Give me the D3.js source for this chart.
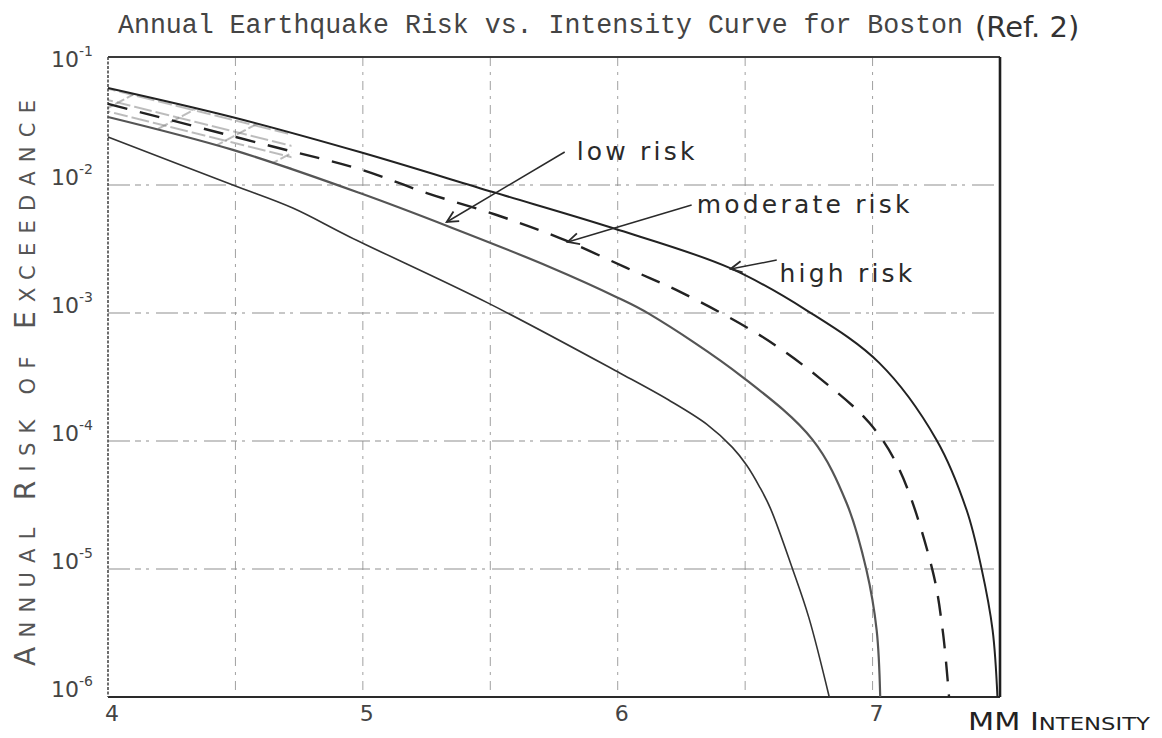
<!DOCTYPE html>
<html>
<head>
<meta charset="utf-8">
<script src="https://cdn.jsdelivr.net/npm/d3@7"></script>
<style>
	body { margin: 0; background: #fff; }
	svg { display: block; }
</style>
</head>
<body>
<div id="risk-chart"></div>
<script>
/**
 * Annual earthquake risk vs. intensity (Boston)
 */

// x axis : MM intensity
const intensityLabels = [4, 5, 6, 7];
const intensityGrid = [4.5, 5, 5.5, 6, 6.5, 7];
// y axis : annual risk of exceedance (log)
const riskTicks = [1e-1, 1e-2, 1e-3, 1e-4, 1e-5, 1e-6];
const riskTickExponents = ["-1", "-2", "-3", "-4", "-5", "-6"];

const highRisk = [
	[4.0, 0.0573], [4.486, 0.0340], [4.988, 0.0181], [5.51, 0.00881],
	[5.98, 0.00461], [6.439, 0.00225], [6.741, 0.00105], [7.027, 0.000406],
	[7.251, 1.02e-4], [7.369, 2.89e-5], [7.427, 1.02e-5], [7.471, 3.33e-6],
	[7.49, 1e-6]
];
const moderateRisk = [
	[4.0, 0.0430], [4.624, 0.0205], [4.988, 0.0133], [5.251, 0.00865],
	[5.525, 0.00583], [5.773, 0.00385], [6.035, 0.00225], [6.255, 0.00143],
	[6.569, 6.49e-4], [6.792, 3.10e-4], [6.988, 1.38e-4], [7.106, 5.93e-5],
	[7.235, 9.8e-6], [7.275, 3.33e-6], [7.30, 1e-6]
];
const lowRisk = [
	[4.0, 0.0340], [4.49, 0.0188], [4.988, 0.00865], [5.341, 0.00470],
	[5.733, 0.00229], [5.996, 0.00133], [6.125, 0.00098], [6.49, 3.16e-4],
	[6.765, 1.02e-4], [6.898, 3.28e-5], [6.976, 9.8e-6], [7.016, 3.33e-6],
	[7.03, 1e-6]
];
const lowestCurve = [
	[4.0, 0.0237], [4.49, 0.0100], [4.725, 0.00661], [4.949, 0.00393],
	[5.49, 0.00120], [6.008, 3.40e-4], [6.2, 2.09e-4], [6.35, 1.35e-4],
	[6.45, 8.91e-5], [6.506, 6.46e-5], [6.557, 4.37e-5], [6.6, 2.95e-5],
	[6.686, 1.0e-5], [6.75, 4.17e-6], [6.83, 1e-6]
];
// hatched band on the left (between high and low risk)
const bandIntensity = [4.0, 4.72];

// labels with arrows : text, label anchor, arrow tail, arrow tip
const annotations = [
	{ text: "low risk", label: [5.839, 0.0157], tail: [5.792, 0.0181], tip: [5.329, 0.00514] },
	{ text: "moderate risk", label: [6.31, 0.00604], tail: [6.29, 0.00698], tip: [5.804, 0.00359] },
	{ text: "high risk", label: [6.635, 0.00175], tail: [6.624, 0.00259], tip: [6.443, 0.00221] }
];

/**
 * Adds a small caps label (capitalised words get a bigger first letter)
 */
function addSmallCaps(textSel, words, bigSize, smallSize) {
	words.forEach((w, i) => {
		const isCap = w[0] === w[0].toUpperCase();
		textSel.append("tspan")
			.attr("font-size", isCap ? bigSize : smallSize)
			.text((i > 0 ? " " : "") + w[0].toUpperCase());
		textSel.append("tspan")
			.attr("font-size", smallSize)
			.text(w.slice(1).toUpperCase());
	});
}

(function (d3) {
	"use strict";

	const width = 1162, height = 738;
	const margin = { top: 57, right: 162, bottom: 41, left: 108 };

	const svg = d3.select("#risk-chart")
		.append("svg")
		.attr("width", width)
		.attr("height", height);

	const x = d3.scaleLinear()
		.domain([4, 7.5])
		.range([margin.left, width - margin.right]);
	const y = d3.scaleLog()
		.domain([1e-6, 1e-1])
		.range([height - margin.bottom, margin.top]);

	const ink = "#2a2a2a";
	const handFont = "'DejaVu Sans', sans-serif";

	/*** hatch patterns ***/
	const defs = svg.append("defs");
	defs.append("pattern")
		.attr("id", "hatch-a")
		.attr("patternUnits", "userSpaceOnUse")
		.attr("width", 40).attr("height", 11)
		.attr("patternTransform", "rotate(14)")
		.append("line")
		.attr("x1", 0).attr("y1", 5).attr("x2", 40).attr("y2", 5)
		.attr("stroke", "#7a7a7a").attr("stroke-width", 1.1)
		.attr("stroke-dasharray", "14 4");
	defs.append("pattern")
		.attr("id", "hatch-b")
		.attr("patternUnits", "userSpaceOnUse")
		.attr("width", 40).attr("height", 42)
		.attr("patternTransform", "rotate(-28)")
		.append("line")
		.attr("x1", 0).attr("y1", 20).attr("x2", 40).attr("y2", 20)
		.attr("stroke", "#7a7a7a").attr("stroke-width", 1.1)
		.attr("stroke-dasharray", "10 3");

	const bandLine = d3.line().x(d => x(d[0])).y(d => y(d[1]));
	defs.append("clipPath")
		.attr("id", "band-clip")
		.append("path")
		.attr("d", bandLine(highRisk.concat(lowRisk.slice().reverse())) + "Z");

	defs.append("marker")
		.attr("id", "arrow")
		.attr("viewBox", "0 0 10 10")
		.attr("refX", 9).attr("refY", 5)
		.attr("markerWidth", 14).attr("markerHeight", 14)
		.attr("markerUnits", "userSpaceOnUse")
		.attr("orient", "auto")
		.append("path")
		.attr("d", "M1,1 L9,5 L1,9")
		.attr("fill", "none")
		.attr("stroke", ink)
		.attr("stroke-width", 1.3);

	/*** grid ***/
	const grid = svg.append("g").attr("class", "grid");
	grid.selectAll(".vgrid")
		.data(intensityGrid)
		.enter().append("line")
		.attr("class", "vgrid")
		.attr("x1", d => x(d)).attr("x2", d => x(d))
		.attr("y1", y(1e-1)).attr("y2", y(1e-6))
		.attr("stroke", "#a0a0a0")
		.attr("stroke-width", 1)
		.attr("stroke-dasharray", "9 6 3 6");
	grid.selectAll(".hgrid")
		.data(riskTicks.slice(1, -1))
		.enter().append("line")
		.attr("class", "hgrid")
		.attr("x1", x(4)).attr("x2", x(7.5))
		.attr("y1", d => y(d)).attr("y2", d => y(d))
		.attr("stroke", "#909090")
		.attr("stroke-width", 1.1)
		.attr("stroke-dasharray", "22 5 6 5 3 7");

	/*** hatched band ***/
	const band = svg.append("g").attr("clip-path", "url(#band-clip)");
	["hatch-a", "hatch-b"].forEach(id => {
		band.append("rect")
			.attr("x", x(bandIntensity[0]))
			.attr("y", margin.top)
			.attr("width", x(bandIntensity[1]) - x(bandIntensity[0]))
			.attr("height", height - margin.top - margin.bottom)
			.attr("fill", "url(#" + id + ")");
	});

	/*** frame ***/
	const frame = svg.append("g").attr("class", "frame");
	frame.append("line")
		.attr("x1", x(4)).attr("x2", x(7.5)).attr("y1", y(1e-1)).attr("y2", y(1e-1))
		.attr("stroke", "#3a3a3a").attr("stroke-width", 1.8);
	frame.append("line")
		.attr("x1", x(4)).attr("x2", x(7.5)).attr("y1", y(1e-6)).attr("y2", y(1e-6))
		.attr("stroke", "#2a2a2a").attr("stroke-width", 2);
	frame.append("line")
		.attr("x1", x(4)).attr("x2", x(4)).attr("y1", y(1e-1)).attr("y2", y(1e-6))
		.attr("stroke", "#4a4a4a").attr("stroke-width", 1.6)
		.attr("stroke-dasharray", "3 1.5");
	frame.append("line")
		.attr("x1", x(7.5)).attr("x2", x(7.5)).attr("y1", y(1e-1)).attr("y2", y(1e-6))
		.attr("stroke", "#1e1e1e").attr("stroke-width", 2.6);

	/*** curves ***/
	const curveLine = d3.line()
		.x(d => x(d[0]))
		.y(d => y(d[1]))
		.curve(d3.curveCatmullRom.alpha(0.5));
	const curves = [
		{ data: lowestCurve, width: 1.6, dash: null, color: "#333" },
		{ data: lowRisk, width: 2.2, dash: null, color: "#555" },
		{ data: moderateRisk, width: 2.4, dash: "20 13", color: "#222" },
		{ data: highRisk, width: 2, dash: null, color: "#222" }
	];
	svg.append("g").selectAll("path")
		.data(curves)
		.enter().append("path")
		.attr("d", d => curveLine(d.data))
		.attr("fill", "none")
		.attr("stroke", d => d.color)
		.attr("stroke-width", d => d.width)
		.attr("stroke-dasharray", d => d.dash);

	/*** annotations ***/
	const notes = svg.append("g").attr("class", "notes");
	notes.selectAll("line")
		.data(annotations)
		.enter().append("line")
		.attr("x1", d => x(d.tail[0])).attr("y1", d => y(d.tail[1]))
		.attr("x2", d => x(d.tip[0])).attr("y2", d => y(d.tip[1]))
		.attr("stroke", ink).attr("stroke-width", 1.5)
		.attr("marker-end", "url(#arrow)");
	notes.selectAll("text")
		.data(annotations)
		.enter().append("text")
		.attr("x", d => x(d.label[0])).attr("y", d => y(d.label[1]))
		.attr("font-family", handFont)
		.attr("font-size", 25)
		.attr("letter-spacing", 3.2)
		.attr("fill", ink)
		.text(d => d.text);

	/*** axes labels ***/
	svg.append("g").selectAll("text")
		.data(intensityLabels)
		.enter().append("text")
		.attr("x", d => x(d) + 4)
		.attr("y", y(1e-6) + 24)
		.attr("text-anchor", "middle")
		.attr("font-family", handFont)
		.attr("font-size", 22)
		.attr("fill", "#444")
		.text(d => d);

	const yLabels = svg.append("g").selectAll("text")
		.data(riskTicks)
		.enter().append("text")
		.attr("x", 51)
		.attr("y", (d, i) => y(d) + (i === 0 ? 10 : 0))
		.attr("font-family", handFont)
		.attr("font-size", 22)
		.attr("fill", "#444");
	yLabels.append("tspan").text("10");
	yLabels.append("tspan")
		.attr("dy", -11)
		.attr("font-size", 14)
		.text((d, i) => riskTickExponents[i]);

	const yTitle = svg.append("text")
		.attr("transform", "translate(35," + 383 + ") rotate(-90)")
		.attr("text-anchor", "middle")
		.attr("font-family", handFont)
		.attr("textLength", 566)
		.attr("lengthAdjust", "spacing")
		.attr("fill", "#555");
	addSmallCaps(yTitle, ["Annual", "Risk", "of", "Exceedance"], 28, 21);

	const xTitle = svg.append("text")
		.attr("x", 968)
		.attr("y", 730)
		.attr("font-family", handFont)
		.attr("textLength", 182)
		.attr("lengthAdjust", "spacingAndGlyphs")
		.attr("fill", "#222");
	addSmallCaps(xTitle, ["MM", "Intensity"], 24, 18);
	xTitle.select("tspan:nth-child(2)").attr("font-size", 24);

	/*** title ***/
	svg.append("text")
		.attr("x", 118)
		.attr("y", 33)
		.attr("font-family", "'Liberation Mono', 'DejaVu Sans Mono', monospace")
		.attr("font-size", 27)
		.attr("textLength", 845)
		.attr("lengthAdjust", "spacingAndGlyphs")
		.attr("fill", "#444")
		.text("Annual Earthquake Risk vs. Intensity Curve for Boston");
	svg.append("text")
		.attr("x", 975)
		.attr("y", 37)
		.attr("font-family", handFont)
		.attr("font-size", 29)
		.attr("fill", "#333")
		.text("(Ref. 2)");

})(d3);
</script>
</body>
</html>
